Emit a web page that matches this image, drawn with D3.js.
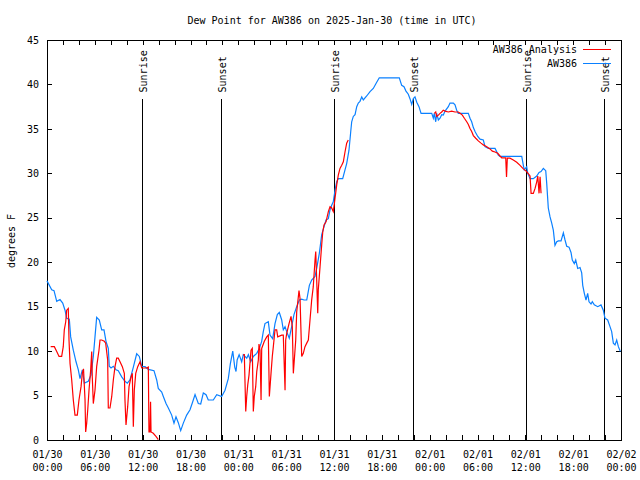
<!DOCTYPE html>
<html>
<head>
<meta charset="utf-8">
<script src="https://cdn.jsdelivr.net/npm/d3@7"></script>
<style>
  html, body { margin: 0; padding: 0; background: #fff; }
  svg { display: block; }
  text { font-family: "DejaVu Sans Mono", "Liberation Mono", monospace; font-size: 10px; fill: #000; }
</style>
</head>
<body>
<svg id="chart" width="640" height="480"></svg>
<script>
// ---- DATA ----
const titleText = "Dew Point for AW386 on 2025-Jan-30 (time in UTC)";
const yLabelText = "degrees F";
const seriesNames = ["AW386 Analysis", "AW386"];
const seriesColors = ["#ff0000", "#0a80ff"];

// hours since 01/30 00:00 UTC
const xTickHours = [0, 6, 12, 18, 24, 30, 36, 42, 48, 54, 60, 66, 72];
const xTickDates = ["01/30","01/30","01/30","01/30","01/31","01/31","01/31","01/31","02/01","02/01","02/01","02/01","02/02"];
const xTickTimes = ["00:00","06:00","12:00","18:00","00:00","06:00","12:00","18:00","00:00","06:00","12:00","18:00","00:00"];
const yTicks = [0, 5, 10, 15, 20, 25, 30, 35, 40, 45];

const sunEventNames = ["Sunrise", "Sunset", "Sunrise", "Sunset", "Sunrise", "Sunset"];
const sunEventHours = [11.95, 21.86, 36.04, 45.93, 60.12, 69.91];

// AW386 observations
const obsHours = [0.0,0.59,0.88,1.22,1.63,1.97,2.26,2.47,2.80,2.97,3.30,3.64,3.93,4.14,4.43,4.68,5.18,5.52,5.81,6.02,6.23,6.56,6.86,7.15,7.40,7.69,7.81,8.03,8.32,8.66,8.94,9.37,9.78,10.07,10.41,10.83,11.25,11.58,11.88,12.29,12.71,13.42,13.76,13.96,14.39,14.59,14.93,15.22,15.64,15.93,16.18,16.47,16.77,17.10,17.52,17.94,18.28,18.57,18.98,19.28,19.61,19.95,20.23,20.86,21.29,21.91,22.33,22.74,23.0,23.30,23.55,23.71,23.85,24.1,24.42,24.62,25.05,25.26,25.55,25.88,26.31,26.63,26.93,27.13,27.34,27.76,27.97,28.31,28.60,28.89,29.14,29.44,29.64,29.86,30.14,30.39,30.69,30.98,31.32,31.65,31.95,32.24,32.58,32.91,33.20,33.62,33.83,34.16,34.46,34.75,35.0,35.29,35.50,35.71,35.91,36.13,36.34,36.54,37.09,37.38,37.59,37.88,38.10,38.22,38.42,38.64,38.85,39.05,39.26,39.48,39.68,40.10,40.52,40.93,41.27,41.68,44.19,44.49,44.78,45.03,45.32,45.53,45.75,45.95,46.16,46.38,46.66,46.92,48.26,48.46,48.58,48.76,48.88,49.09,49.30,49.51,49.71,49.93,50.34,50.55,50.97,51.18,51.39,51.59,52.85,53.06,53.27,53.48,53.69,54.03,54.32,54.73,54.94,55.36,56.20,56.61,56.82,59.55,59.75,59.87,60.17,60.30,60.59,61.00,61.43,61.72,61.97,62.26,62.56,62.68,62.88,63.10,63.31,63.51,63.72,63.94,64.14,64.48,64.77,64.98,65.19,65.48,65.73,65.89,66.14,66.32,66.57,66.86,67.07,67.20,67.40,67.61,67.82,67.99,68.24,68.40,68.65,69.08,69.49,69.78,69.99,70.33,70.62,70.83,71.04,71.25,71.46,71.67,71.92];
const obsValues = [17.9,16.9,16.8,15.6,15.8,15.4,14.6,13.7,13.6,11.6,10.1,8.8,7.9,6.9,7.9,6.4,6.6,7.3,9.4,11.6,13.8,13.5,12.4,12.4,11.1,10.3,8.3,8.1,8.3,7.9,7.8,7.1,6.6,6.4,6.75,8.2,9.7,9.4,8.3,8.25,7.95,7.8,6.75,5.8,5.4,4.9,4.1,3.6,2.8,1.9,2.6,1.95,1.05,1.9,2.8,3.4,4.3,5.1,4.1,4.05,5.3,5.1,4.5,4.5,5.1,4.9,5.6,6.9,8.6,10.0,8.2,7.7,9.0,9.6,8.8,9.6,9.2,9.6,8.8,9.4,9.75,10.3,11.1,12.2,13.1,13.3,11.8,11.4,13.1,14.1,14.35,13.5,12.4,12.75,12.0,11.45,12.75,14.1,15.0,15.75,15.85,15.75,15.75,17.4,18.0,18.4,19.3,21.0,23.1,24.0,24.75,24.9,25.9,26.4,26.8,28.1,29.05,29.4,29.4,30.4,31.1,32.6,34.7,35.8,36.4,36.6,37.5,37.9,38.1,38.6,38.25,38.7,39.2,39.55,40.1,40.75,40.75,39.9,39.75,39.25,38.9,38.4,37.75,38.4,38.6,38.0,37.5,36.75,36.75,36.2,36.75,35.8,36.75,36.0,36.2,36.6,36.55,37.0,37.5,37.9,37.9,37.7,37.1,36.75,36.75,36.2,35.8,35.15,34.7,34.15,33.85,33.75,33.0,32.8,32.8,32.05,31.9,31.9,30.9,30.4,30.75,30.0,29.4,29.4,29.7,30.1,30.2,30.55,30.3,28.9,26.1,25.1,24.4,23.6,21.9,22.3,22.4,22.4,23.3,22.5,21.8,21.7,21.1,20.25,19.85,20.25,19.3,19.4,18.8,17.4,16.5,15.75,16.5,15.55,15.3,15.55,15.2,15.0,15.2,14.6,13.7,13.5,12.75,12.2,10.9,10.7,11.25,10.5,9.95];

// AW386 Analysis (null = no analysis)
const anaHours = [0.46,0.92,1.22,1.51,1.84,2.04,2.17,2.35,2.47,2.67,2.76,2.89,3.10,3.30,3.51,3.80,4.01,4.27,4.43,4.58,4.77,4.85,4.98,5.11,5.27,5.48,5.61,5.68,5.81,6.02,6.23,6.52,6.65,6.86,7.19,7.36,7.61,7.69,7.90,8.12,8.32,8.53,8.74,8.94,9.16,9.45,9.70,9.78,9.91,10.12,10.29,10.54,10.70,10.83,10.95,11.13,11.38,11.67,11.88,12.51,12.71,12.79,12.92,12.99,13.05,13.33,13.67,13.96,
  19.0,
  24.62,24.75,24.84,24.93,25.05,25.18,25.34,25.59,25.75,25.88,26.00,26.18,26.31,26.51,26.59,26.72,26.85,26.93,27.26,27.56,27.76,27.89,28.10,28.26,28.39,28.60,28.81,28.94,29.44,29.64,29.86,29.94,30.07,30.36,30.61,30.77,30.90,31.02,31.20,31.32,31.61,31.74,31.95,32.15,32.36,32.58,32.78,32.99,33.20,33.40,33.62,33.71,33.83,33.96,34.03,34.25,34.46,34.59,34.75,35.00,35.29,35.50,35.71,35.91,36.13,36.34,36.54,36.75,36.97,37.17,37.38,37.59,37.79,
  43.0,
  48.58,48.76,48.88,49.09,49.30,49.51,49.71,49.93,50.34,50.76,51.18,51.59,51.81,52.10,52.35,52.65,52.85,53.06,53.27,53.48,53.78,54.10,54.44,54.73,55.16,55.57,55.86,56.20,56.54,56.82,57.04,57.54,57.64,57.74,58.07,58.49,58.92,59.34,59.75,60.17,60.59,60.72,61.00,61.22,61.43,61.56,61.72,61.85,61.97];
const anaValues = [10.5,10.5,9.95,9.4,9.4,10.5,12.4,13.3,14.6,14.8,11.25,8.6,6.75,4.5,2.8,2.8,4.5,6.0,7.5,8.0,4.5,0.9,1.9,3.4,5.6,7.9,9.95,7.1,4.1,5.6,8.25,10.1,11.25,11.25,11.1,10.9,9.0,3.6,3.6,4.9,6.75,8.25,9.2,9.2,8.8,8.25,7.5,4.5,1.7,3.75,6.0,7.1,7.5,1.5,5.6,7.5,8.25,8.8,8.1,8.1,8.2,0.9,0.9,4.3,0.9,0.75,0.4,0.05,
  null,
  9.6,9.6,6.4,3.2,4.9,6.2,7.3,10.1,10.3,3.2,4.9,6.0,7.7,9.0,10.8,10.1,4.5,10.3,11.1,11.6,11.8,4.9,7.5,9.4,10.5,12.4,12.4,11.6,11.8,11.8,5.6,11.25,12.0,13.1,13.9,12.75,7.5,9.0,11.25,14.4,16.8,15.9,9.4,9.75,10.5,10.9,11.25,13.5,15.75,17.25,20.25,21.2,18.0,14.25,16.9,19.5,22.0,23.4,24.2,24.55,25.7,26.25,26.1,25.7,27.2,28.7,29.8,30.55,30.9,31.3,32.4,33.4,33.75,
  null,
  36.75,36.9,36.4,36.55,36.75,36.9,37.1,37.0,36.9,37.0,36.9,36.9,36.75,36.55,36.2,35.8,35.5,35.05,34.7,34.25,33.95,33.65,33.4,33.2,33.0,32.75,32.5,32.4,32.25,31.95,31.75,31.75,29.6,31.7,31.7,31.5,31.25,30.9,30.5,30.2,29.7,27.75,27.75,28.3,29.05,29.7,27.75,29.6,27.75];

// ---- CHART ----
const W = 640, H = 480;
const plot = { left: 47, right: 621, top: 40, bottom: 440 };
const svg = d3.select("#chart");

const x = d3.scaleLinear().domain([0, 72]).range([plot.left, plot.right]);
const y = d3.scaleLinear().domain([0, 45]).range([plot.bottom, plot.top]);

// title
svg.append("text").attr("x", 332).attr("y", 24).attr("text-anchor", "middle").text(titleText);

// y label
svg.append("text")
  .attr("transform", `translate(15,241) rotate(-90)`)
  .attr("text-anchor", "middle")
  .text(yLabelText);

const tickLen = 5;
const minorHours = d3.range(0, 73, 2);

// bottom axis
svg.append("g").attr("transform", `translate(0,${plot.bottom})`)
  .call(d3.axisBottom(x).tickValues(minorHours).tickSizeInner(-tickLen).tickSizeOuter(0).tickFormat(() => ""));
// bottom labels via axis too
const gBL = svg.append("g").attr("transform", `translate(0,${plot.bottom})`)
  .call(d3.axisBottom(x).tickValues(xTickHours).tickSize(0).tickPadding(0).tickFormat(() => ""));
gBL.select(".domain").remove();
gBL.selectAll(".tick text").each(function(d, i) {
  const t = d3.select(this).attr("y", 0).attr("dy", null);
  t.append("tspan").attr("x", 0).attr("y", 18).text(xTickDates[i]);
  t.append("tspan").attr("x", 0).attr("y", 31).text(xTickTimes[i]);
});

// top mirror
svg.append("g").attr("transform", `translate(0,${plot.top})`)
  .call(d3.axisTop(x).tickValues(minorHours).tickSizeInner(-tickLen).tickSizeOuter(0).tickFormat(() => ""));

// left axis
svg.append("g").attr("transform", `translate(${plot.left},0)`)
  .call(d3.axisLeft(y).tickValues(yTicks).tickSizeInner(-tickLen).tickSizeOuter(0).tickPadding(8).tickFormat(d3.format("d")));
// right mirror
svg.append("g").attr("transform", `translate(${plot.right},0)`)
  .call(d3.axisRight(y).tickValues(yTicks).tickSizeInner(-tickLen).tickSizeOuter(0).tickFormat(() => ""));

svg.selectAll(".tick line").attr("stroke", "#000").attr("shape-rendering", "crispEdges");
svg.selectAll(".domain").attr("stroke", "#000").attr("shape-rendering", "crispEdges");
svg.selectAll(".tick text").style("font-family", '"DejaVu Sans Mono", monospace').style("font-size", "10px").attr("fill", "#000");

// frame
svg.append("rect")
  .attr("x", plot.left + 0.5).attr("y", plot.top + 0.5)
  .attr("width", plot.right - plot.left).attr("height", plot.bottom - plot.top)
  .attr("fill", "none").attr("stroke", "#000").attr("shape-rendering", "crispEdges");

// sunrise / sunset markers
const sunLineTop = 38.4, sunLabelStart = 39.1;
const sunG = svg.append("g");
sunEventHours.forEach((h, i) => {
  const px = Math.round(x(h)) + 0.5;
  sunG.append("line").attr("x1", px).attr("x2", px)
    .attr("y1", y(0)).attr("y2", y(sunLineTop))
    .attr("stroke", "#000").attr("stroke-width", 1).attr("shape-rendering", "crispEdges");
  sunG.append("text")
    .attr("transform", `translate(${px + 1},${y(sunLabelStart)}) rotate(-90)`)
    .attr("dominant-baseline", "central")
    .text(sunEventNames[i]);
});

// lines
const anaData = anaHours.map((h, i) => ({ h, v: anaValues[i] }));
const obsData = obsHours.map((h, i) => ({ h, v: obsValues[i] }));
const line = d3.line().defined(d => d.v !== null).x(d => x(d.h)).y(d => y(d.v));

svg.append("path").datum(obsData).attr("d", line)
  .attr("fill", "none").attr("stroke", seriesColors[1]).attr("stroke-width", 1.2);
svg.append("path").datum(anaData).attr("d", line)
  .attr("fill", "none").attr("stroke", seriesColors[0]).attr("stroke-width", 1.2);

// legend
const legend = svg.append("g");
[0, 1].forEach(i => {
  const ly = 49 + i * 13.5;
  legend.append("text").attr("x", 577).attr("y", ly + 4).attr("text-anchor", "end").text(seriesNames[i]);
  legend.append("line").attr("x1", 583).attr("x2", 611).attr("y1", ly + 0.5).attr("y2", ly + 0.5)
    .attr("stroke", seriesColors[i]).attr("stroke-width", 1).attr("shape-rendering", "crispEdges");
});
</script>
</body>
</html>
